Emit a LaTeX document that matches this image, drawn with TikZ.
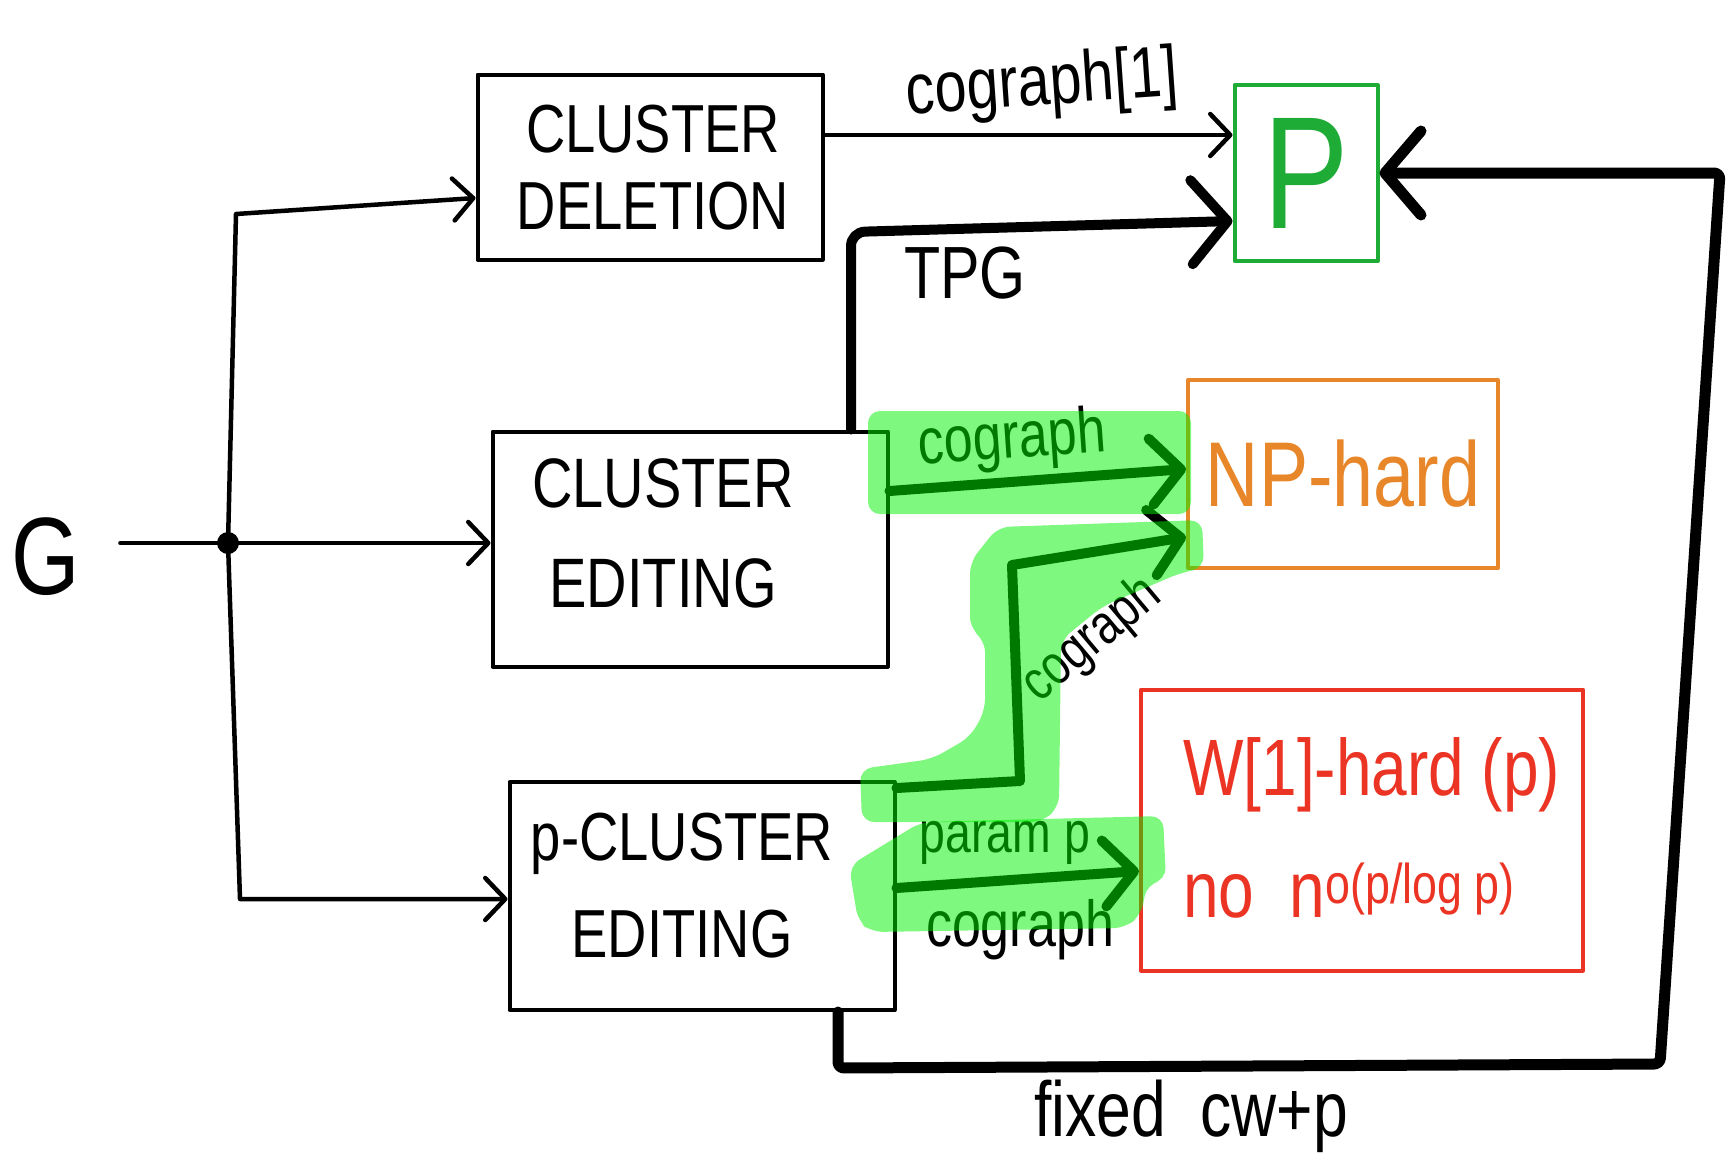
\documentclass[tikz,border=0pt]{standalone}
\usepackage{fontspec}
\setmainfont{Liberation Sans}[FakeStretch=0.8]
\usetikzlibrary{arrows.meta}
\definecolor{hlgreen}{RGB}{0,242,0}
\definecolor{pgreen}{RGB}{30,172,55}
\definecolor{npor}{RGB}{232,134,42}
\definecolor{wred}{RGB}{235,52,36}
\newcommand\fsz[2]{\fontsize{#1pt}{#2pt}\selectfont}
\begin{document}
\begin{tikzpicture}[x=1pt,y=-1pt,
  box/.style={draw,line width=4pt,inner sep=0pt,line join=round},
  txt/.style={inner sep=0pt,align=center},
  ln/.style={line width=4.5pt,line cap=round,line join=round},
  arr/.style={ln,-{Straight Barb[length=20pt,width=42pt,round]}},
  bigarr/.style={line width=11pt,line cap=round,line join=round,rounded corners=14pt,-{Straight Barb[length=36pt,width=84pt,round]}},
  harr/.style={line width=10pt,line cap=round,line join=round,-{Straight Barb[length=30pt,width=66pt,round]}},
  hl/.style={fill=hlgreen,fill opacity=0.5,rounded corners=12pt}]
\fill[white] (0,0) rectangle (1729,1168);
\useasboundingbox (0,0) rectangle (1729,1168);

% boxes
\node[box,minimum width=345pt,minimum height=185pt] (cd) at (650,167) {};
\node[txt,font=\fsz{68}{77}] (cdt) at (653,168) {CLUSTER\\DELETION};
\node[box,minimum width=395pt,minimum height=235pt] (ce) at (690,549) {};
\node[txt,font=\fsz{70}{100}] (cet) at (663,533) {CLUSTER\\EDITING};
\node[box,minimum width=385pt,minimum height=228pt] (pce) at (702,896) {};
\node[txt,font=\fsz{68}{97}] (pcet) at (682,886) {p-CLUSTER\\EDITING};
\node[box,draw=pgreen,text=pgreen,font=\fsz{160}{160},minimum width=143pt,minimum height=176pt] (P) at (1306,173) {P};
\node[box,draw=npor,text=npor,font=\fsz{92}{92},minimum width=310pt,minimum height=188pt] (np) at (1343,474) {NP-hard};
\node[box,draw=wred,minimum width=442pt,minimum height=281pt] (w1) at (1362,830) {};
\node[txt,align=left,anchor=west,text=wred,font=\fsz{80}{122}] (w1t) at (1183,828) {W[1]-hard (p)\\no\ \ n\textsuperscript{o(p/log p)}};

% input
\node[txt,font=\fsz{110}{110}] (g) at (46,557) {G};
\node[circle,fill,inner sep=0pt,minimum size=22pt] (j) at (228,543) {};
\coordinate (ctop) at (236,214);
\coordinate (cbot) at (240,899);
\draw[ln,shorten <=40pt] (g.east |- j) -- (j);
\draw[arr] (j.center) -- (ctop) -- (cd.west |- 0,198);
\draw[arr] (j.center) -- (ce.west |- j);
\draw[arr] (j.center) -- (cbot) -- (pce.west |- cbot);

% to P
\draw[arr] (cd.east |- 0,135) -- (P.west |- 0,135);
\node[txt,font=\fsz{72}{72},rotate=4] (l1) at (1042,86) {cograph[1]};
\coordinate (tpgc) at (851,232);
\draw[bigarr,line width=10pt] (ce.north -| tpgc) -- (tpgc) -- (P.west |- 0,221);
\node[txt,font=\fsz{74}{74}] (l2) at (965,273) {TPG};
\coordinate (lp1) at (838,1068);
\coordinate (lp2) at (1660,1064);
\coordinate (lp3) at (1720,173);
\draw[bigarr,rounded corners=6pt] (pce.south -| lp1) -- (lp1) -- (lp2) -- (lp3) -- (P.east |- lp3);
\node[txt,font=\fsz{78}{78}] (l3) at (1191,1116) {fixed\ \ cw+p};

% cograph arrows
\draw[harr] (ce.east |- 0,491) -- (np.west |- 0,469);
\node[txt,font=\fsz{65}{65},rotate=4] (l4) at (1012,441) {cograph};
\coordinate (s1) at (1020,781);
\coordinate (s2) at (1012,565);
\draw[harr] (pce.east |- 0,788) -- (s1) -- (s2) -- (np.west |- 0,537);
\node[txt,font=\fsz{56}{56},rotate=40] (l5) at (1092,640) {cograph};
\draw[harr] (pce.east |- 0,888) -- (w1.west |- 0,871);
\node[txt,font=\fsz{58}{58}] (l6) at (1005,843) {param p};
\node[txt,font=\fsz{65}{65}] (l7) at (1020,930) {cograph};

% highlighter
\fill[hl] (868,411) rectangle (1191,514);
\fill[hl] (860,769) -- (932,759) -- (970,737) -- (985,711) -- (985,640) -- (970,629) -- (970,562) -- (998,527) -- (1202,520) -- (1204,568) -- (1180,573) -- (1103,606) -- (1061,640) -- (1059,807) -- (1042,822) -- (862,822) -- cycle;
\fill[hl] (849,866) -- (921,822) -- (1163,816) -- (1166,880) -- (1147,884) -- (1141,915) -- (1125,928) -- (871,932) -- (858,921) -- cycle;
\end{tikzpicture}
\end{document}
